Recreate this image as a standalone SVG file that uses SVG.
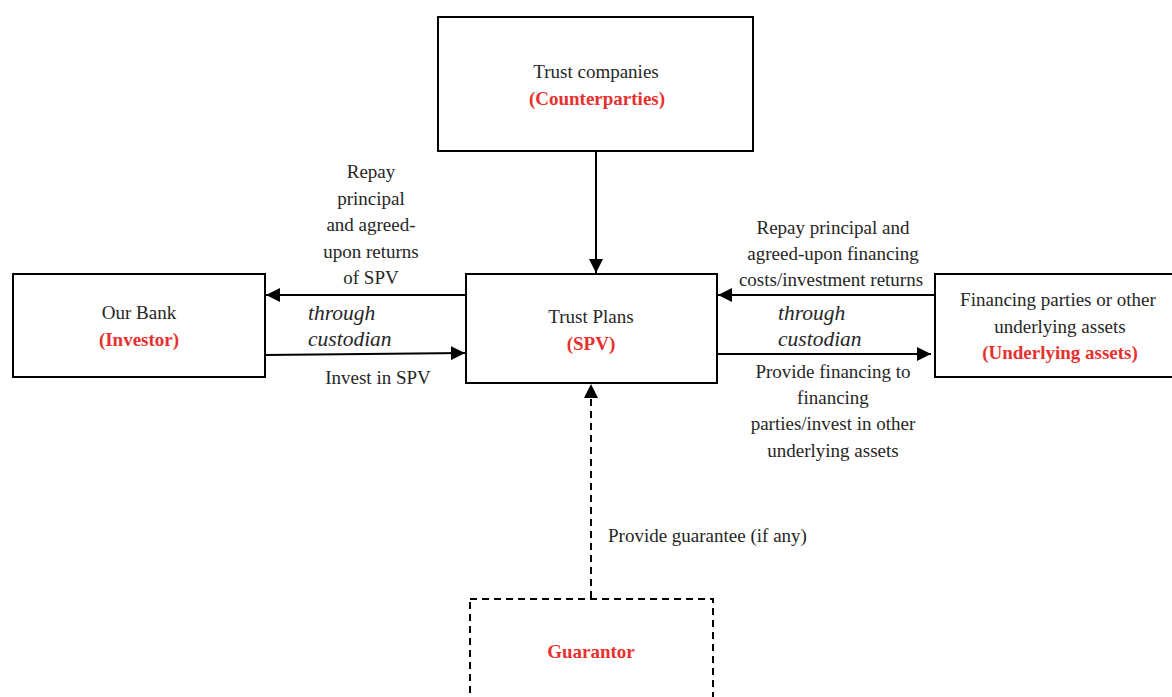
<svg xmlns="http://www.w3.org/2000/svg" width="1172" height="697" viewBox="0 0 1172 697">
<style>
text{font-family:"Liberation Serif","Times New Roman",serif;font-size:19px;fill:#262626}
.c{text-anchor:middle}
.r{fill:#e8312f;font-weight:bold}
.i{font-style:italic;font-size:21.5px}
.box{fill:#fff;stroke:#000;stroke-width:2}
.dash{fill:#fff;stroke:#000;stroke-width:2;stroke-dasharray:7,5}
.ln{stroke:#000;stroke-width:2;fill:none}
</style>
<defs>
<marker id="ah" viewBox="0 0 10 10" refX="10" refY="5" markerWidth="14" markerHeight="14" markerUnits="userSpaceOnUse" orient="auto">
<path d="M0,0 L10,5 L0,10 Z" fill="#000"/>
</marker>
</defs>
<g id="connectors">
<line class="ln" x1="596" y1="152" x2="596" y2="273" marker-end="url(#ah)"/>
<line class="ln" x1="466" y1="295" x2="266" y2="295" marker-end="url(#ah)"/>
<line class="ln" x1="265" y1="355" x2="465" y2="353" marker-end="url(#ah)"/>
<line class="ln" x1="935" y1="295" x2="718" y2="295" marker-end="url(#ah)"/>
<line class="ln" x1="717" y1="354" x2="931" y2="354" marker-end="url(#ah)"/>
<line class="ln" x1="591" y1="598" x2="591" y2="384" stroke-dasharray="7,5" marker-end="url(#ah)"/>
<text class="c" x="371" y="178">Repay</text>
<text class="c" x="371" y="205">principal</text>
<text class="c" x="371" y="231">and agreed-</text>
<text class="c" x="371" y="258">upon returns</text>
<text class="c" x="371" y="284">of SPV</text>
<text class="i" x="308" y="320">through</text>
<text class="i" x="308" y="346">custodian</text>
<text class="c" x="378" y="384">Invest in SPV</text>
<text class="c" x="833" y="234">Repay principal and</text>
<text class="c" x="833" y="260">agreed-upon financing</text>
<text class="c" x="831" y="286">costs/investment returns</text>
<text class="i" x="778" y="320">through</text>
<text class="i" x="778" y="346">custodian</text>
<text class="c" x="833" y="378">Provide financing to</text>
<text class="c" x="833" y="404">financing</text>
<text class="c" x="833" y="430">parties/invest in other</text>
<text class="c" x="833" y="457">underlying assets</text>
<text x="608" y="542">Provide guarantee (if any)</text>
</g>
<g id="trust-companies">
<rect class="box" x="438" y="17" width="315" height="134"/>
<text class="c" x="596" y="78">Trust companies</text>
<text class="c r" x="597" y="105">(Counterparties)</text>
</g>
<g id="our-bank">
<rect class="box" x="13" y="274" width="252" height="103"/>
<text class="c" x="139" y="319">Our Bank</text>
<text class="c r" x="139" y="346">(Investor)</text>
</g>
<g id="trust-plans">
<rect class="box" x="466" y="274" width="251" height="109"/>
<text class="c" x="591" y="323">Trust Plans</text>
<text class="c r" x="591" y="350">(SPV)</text>
</g>
<g id="financing-parties">
<rect class="box" x="935" y="274" width="245" height="103"/>
<text class="c" x="1058" y="306">Financing parties or other</text>
<text class="c" x="1060" y="333">underlying assets</text>
<text class="c r" x="1060" y="359">(Underlying assets)</text>
</g>
<g id="guarantor">
<rect class="dash" x="470" y="599" width="243" height="110"/>
<text class="c r" x="591" y="658">Guarantor</text>
</g>
</svg>
